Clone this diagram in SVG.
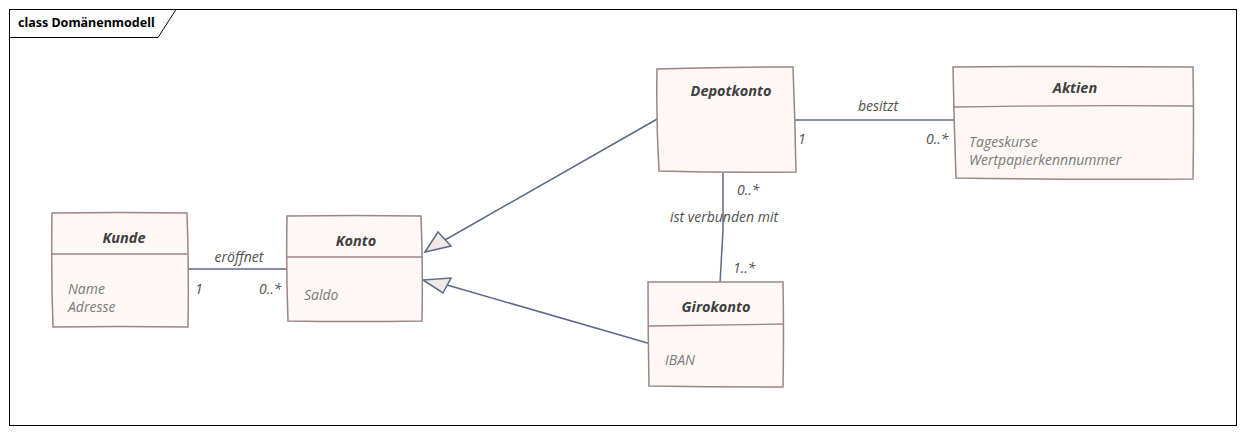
<svg xmlns="http://www.w3.org/2000/svg" width="1245" height="434" viewBox="0 0 1245 434">
<style>
.box{fill:#fdf8f6;stroke:#9c8585;stroke-width:1.5}
.div{fill:none;stroke:#9c8585;stroke-width:1.3}
.conn{fill:none;stroke:#5d6a87;stroke-width:1.5}
.tri{fill:#f1e9e7;stroke:#5d6a87;stroke-width:1.5;stroke-linejoin:miter}
.title{font-family:"Open Sans","Liberation Sans",sans-serif;font-size:14.5px;font-weight:bold;font-style:italic;fill:#404040;text-anchor:middle}
.attr{font-family:"Open Sans","Liberation Sans",sans-serif;font-size:14px;font-style:italic;fill:#7a7a7a}
.lbl{font-family:"Open Sans","Liberation Sans",sans-serif;font-size:14px;font-style:italic;fill:#505050}
.frame{font-family:"Noto Sans","Liberation Sans",sans-serif;font-size:12.5px;font-weight:bold;fill:#000}
</style>
<rect x="0" y="0" width="1245" height="434" fill="#ffffff"/>
<g id="frame">
<rect x="9.5" y="9.5" width="1227" height="416" fill="none" stroke="#000" stroke-width="1"/>
<path d="M9.5 37.5 H158 L176 9.5" fill="none" stroke="#000" stroke-width="1"/>
<text class="frame" x="18" y="27">class Domänenmodell</text>
</g>
<g id="connectors">
<line class="conn" x1="188" y1="269" x2="291" y2="269"/>
<line class="conn" x1="792" y1="120" x2="955" y2="120"/>
<path class="conn" d="M723 173 L723 230 L720 283"/>
<line class="conn" x1="659" y1="118" x2="438" y2="244"/>
<path class="tri" d="M425 252 L438 232 L451 246 Z"/>
<line class="conn" x1="651" y1="344" x2="447" y2="285"/>
<path class="tri" d="M423 280 L451 278 L443 293 Z"/>
<text class="lbl" x="239" y="262" text-anchor="middle">eröffnet</text>
<text class="lbl" x="195" y="294">1</text>
<text class="lbl" x="259" y="294">0..*</text>
<text class="lbl" x="878" y="111" text-anchor="middle">besitzt</text>
<text class="lbl" x="798" y="144">1</text>
<text class="lbl" x="926" y="144">0..*</text>
<text class="lbl" x="737" y="195">0..*</text>
<text class="lbl" x="724" y="222" text-anchor="middle">ist verbunden mit</text>
<text class="lbl" x="733" y="273">1..*</text>
</g>
<g id="kunde">
<path class="box" d="M52 213 Q120 212 187 213 Q189 270 188 327 Q120 326 53 327 Q51 270 52 213 Z"/>
<path class="div" d="M52 254 H188"/>
<text class="title" x="124" y="243">Kunde</text>
<text class="attr" x="68" y="294">Name</text>
<text class="attr" x="68" y="312">Adresse</text>
</g>
<g id="konto">
<path class="box" d="M287 216 Q354 215 421 216 Q423 268 422 321 Q355 322 288 321 Q286 268 287 216 Z"/>
<path class="div" d="M287 257 H423"/>
<text class="title" x="356" y="246">Konto</text>
<text class="attr" x="304" y="300">Saldo</text>
</g>
<g id="depotkonto">
<path class="box" d="M657 69 Q725 67 793 67 Q795 120 796 172 Q727 173 659 171 Q656 120 657 69 Z"/>
<text class="title" x="731" y="96">Depotkonto</text>
</g>
<g id="aktien">
<path class="box" d="M953 67 Q1073 66 1193 67 Q1194 123 1193 179 Q1075 180 956 178 Q954 123 953 67 Z"/>
<path class="div" d="M953 107 Q1073 105 1194 106"/>
<text class="title" x="1075" y="93">Aktien</text>
<text class="attr" x="969" y="147">Tageskurse</text>
<text class="attr" x="969" y="165">Wertpapierkennnummer</text>
</g>
<g id="girokonto">
<path class="box" d="M648 282 Q716 282 783 282 Q784 335 783 387 Q716 387 649 386 Q648 335 648 282 Z"/>
<path class="div" d="M649 326 Q716 325 783 324"/>
<text class="title" x="716" y="312">Girokonto</text>
<text class="attr" x="665" y="365">IBAN</text>
</g>
</svg>
